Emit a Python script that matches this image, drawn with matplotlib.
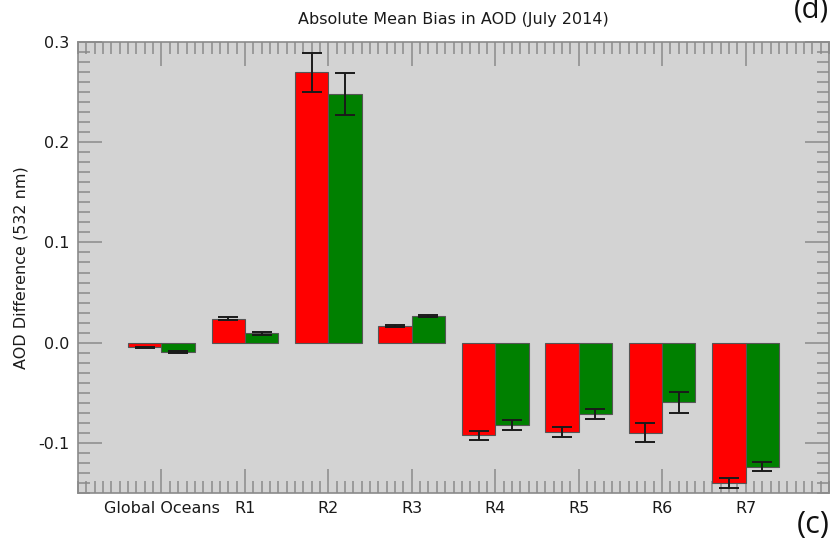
import matplotlib.pyplot as plt
import numpy as np
from matplotlib.ticker import MultipleLocator

# values
regions = ['Global Oceans', 'R1', 'R2', 'R3', 'R4', 'R5', 'R6', 'R7']
red_vals = [-0.0047, 0.0237, 0.270, 0.0163, -0.0925, -0.0887, -0.0897, -0.1397]
red_err = [0.0008, 0.0015, 0.0195, 0.0010, 0.0047, 0.0050, 0.0098, 0.0048]
green_vals = [-0.0093, 0.0093, 0.248, 0.0263, -0.0820, -0.0710, -0.0593, -0.1237]
green_err = [0.0008, 0.0015, 0.0210, 0.0010, 0.0047, 0.0050, 0.0105, 0.0048]

plt.rcParams['font.family'] = 'DejaVu Sans'
plt.rcParams['axes.unicode_minus'] = False

fig = plt.figure(figsize=(8.31, 5.41), dpi=100)
ax = fig.add_axes([0.0939, 0.0887, 0.9037, 0.8337])
ax.set_facecolor('#d3d3d3')

x = np.arange(len(regions))
w = 0.4
ekw = dict(ecolor='#1a1a1a', elinewidth=1.4, capsize=7.2, capthick=1.4)
ax.bar(x - w/2, red_vals, width=w, color='#ff0000', edgecolor='#555555',
       linewidth=0.8, yerr=red_err, error_kw=ekw, zorder=2)
ax.bar(x + w/2, green_vals, width=w, color='#008000', edgecolor='#555555',
       linewidth=0.8, yerr=green_err, error_kw=ekw, zorder=2)

ax.set_xlim(-1, 8)
ax.set_ylim(-0.15, 0.3)
ax.set_xticks(x)
ax.set_xticklabels(regions)
ax.xaxis.set_minor_locator(MultipleLocator(0.1))
ax.yaxis.set_major_locator(MultipleLocator(0.1))
ax.yaxis.set_minor_locator(MultipleLocator(0.01))
ax.yaxis.set_major_formatter(plt.FuncFormatter(lambda v, p: f'{v:.1f}'))

for s in ax.spines.values():
    s.set_color('#8a8a8a')
    s.set_linewidth(1.2)
ax.tick_params(which='both', direction='in', top=True, right=True,
               color='#8a8a8a', width=1.1, labelsize=11.5, labelcolor='#1a1a1a')
ax.tick_params(which='major', length=17, pad=6)
ax.tick_params(which='minor', length=8.5)

ax.set_title('Absolute Mean Bias in AOD (July 2014)', fontsize=11.5,
             color='#1a1a1a', pad=13)
ax.set_ylabel('AOD Difference (532 nm)', fontsize=11.5, color='#1a1a1a',
              labelpad=7)

fig.text(0.997, 1.008, '(d)', fontsize=21, ha='right', va='top',
         color='#111111', family='Open Sans')
fig.text(0.998, 0.002, '(c)', fontsize=22, ha='right', va='bottom',
         color='#111111', family='Open Sans')

fig.savefig('out.png', dpi=100)
